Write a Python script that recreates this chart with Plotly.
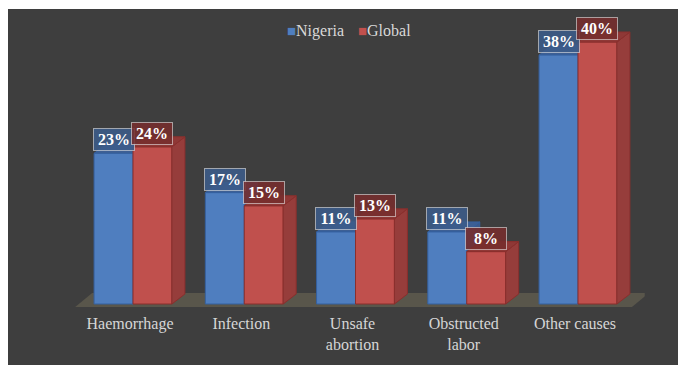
import plotly.graph_objects as go

categories = ["Haemorrhage", "Infection", "Unsafe<br>abortion", "Obstructed<br>labor", "Other causes"]
nigeria = [23, 17, 11, 11, 38]
global_ = [24, 15, 13, 8, 40]
series_names = ["Nigeria", "Global"]

W, H = 678, 365
BLUE, RED = "#4f7ebf", "#c0504d"
BLUE_TOP, BLUE_SIDE = "#3d5f94", "#3a5a8c"
RED_TOP, RED_SIDE = "#8f3836", "#963d3b"
BLUE_EDGE, RED_EDGE = "#35609f", "#8a2f2d"
FONT = "'Liberation Serif', 'Times New Roman', Times, serif"

n = len(categories)
xs = list(range(n))
# axis geometry (pixels)
x_lo, x_hi = -0.9, n - 0.4
y_lo, y_hi = -1.2, 45
px_per_x = 111.25
px_per_y = 6.55
x0_px = 133 - (0 - x_lo) * px_per_x
x1_px = x0_px + (x_hi - x_lo) * px_per_x
base_px = 304
ydom0 = (H - (base_px - y_lo * px_per_y)) / H
ydom1 = (H - (base_px - y_hi * px_per_y)) / H

bargap = 0.3
bw = (1 - bargap) / 2
dx = 13 / px_per_x
dy = 10 / px_per_y

fig = go.Figure()
fig.add_trace(go.Bar(x=xs, y=nigeria, name=series_names[0], marker=dict(color=BLUE, line=dict(color=BLUE_EDGE, width=1)), showlegend=False))
fig.add_trace(go.Bar(x=xs, y=global_, name=series_names[1], marker=dict(color=RED, line=dict(color=RED_EDGE, width=1)), showlegend=False))

shapes = []
# dark panel
shapes.append(dict(type="rect", xref="paper", yref="paper", x0=8 / W, x1=1.02, y0=-0.02, y1=1 - 9 / H,
                   fillcolor="#3e3e3e", line=dict(width=0), layer="below"))
# floor
fl, fr = -0.52, (n - 1) + 0.485
fdx, fdy = 17 / px_per_x, 14 / px_per_y
fy0 = -3 / px_per_y
shapes.append(dict(type="path", xref="x", yref="y", layer="below",
                   path=f"M{fl},{fy0} L{fr},{fy0} L{fr+fdx},{fy0+fdy} L{fl+fdx},{fy0+fdy} Z",
                   fillcolor="#59564b", line=dict(width=0)))

def faces(xl, xr, h, top, side, edge, layer):
    out = []
    out.append(dict(type="path", xref="x", yref="y", layer=layer,
                    path=f"M{xr},0 L{xr+dx},{dy} L{xr+dx},{h+dy} L{xr},{h} Z",
                    fillcolor=side, line=dict(color=edge, width=1)))
    out.append(dict(type="path", xref="x", yref="y", layer=layer,
                    path=f"M{xl},{h} L{xr},{h} L{xr+dx},{h+dy} L{xl+dx},{h+dy} Z",
                    fillcolor=top, line=dict(color=edge, width=1)))
    return out

for i in xs:
    shapes += faces(i - bw, i, nigeria[i], BLUE_TOP, BLUE_SIDE, BLUE_EDGE, "below")
for i in xs:
    shapes += faces(i, i + bw, global_[i], RED_TOP, RED_SIDE, RED_EDGE, "above")

annotations = []
for i in xs:
    for off, v, bg in ((-bw / 2, nigeria[i], "rgba(60,92,138,0.88)"), (bw / 2, global_[i], "rgba(118,46,45,0.88)")):
        annotations.append(dict(x=i + off, y=v, xref="x", yref="y", yanchor="bottom", yshift=2,
                                text=f"<b>{v}%</b>", showarrow=False,
                                font=dict(family=FONT, size=16, color="white"),
                                bgcolor=bg, bordercolor="rgba(230,230,230,0.6)", borderwidth=1,
                                borderpad=0, width=40, height=21))

legend_pos = [285, 356]
for name, col, lx in zip(series_names, (BLUE, RED), legend_pos):
    annotations.append(dict(x=lx / W, y=1 - 31 / H, xref="paper", yref="paper", xanchor="left", yanchor="middle",
                            text=f'<span style="color:{col};font-size:15px">■</span>{name}', showarrow=False,
                            font=dict(family=FONT, size=16, color="#d9d9d9")))

fig.update_layout(
    width=W, height=H, margin=dict(l=0, r=0, t=0, b=0),
    paper_bgcolor="white", plot_bgcolor="rgba(0,0,0,0)",
    font=dict(family=FONT),
    barmode="group", bargap=bargap, bargroupgap=0,
    shapes=shapes, annotations=annotations, showlegend=False,
    xaxis=dict(domain=[x0_px / W, x1_px / W], range=[x_lo, x_hi], tickmode="array", tickvals=xs,
               ticktext=categories, showgrid=False, zeroline=False, showline=False, ticks="",
               tickfont=dict(family=FONT, size=16, color="#d6d6d6"), ticklabelshift=-3, ticklabelstandoff=0),
    yaxis=dict(domain=[ydom0, ydom1], range=[y_lo, y_hi], visible=False, showgrid=False, zeroline=False),
)

fig.write_html("out.html")
